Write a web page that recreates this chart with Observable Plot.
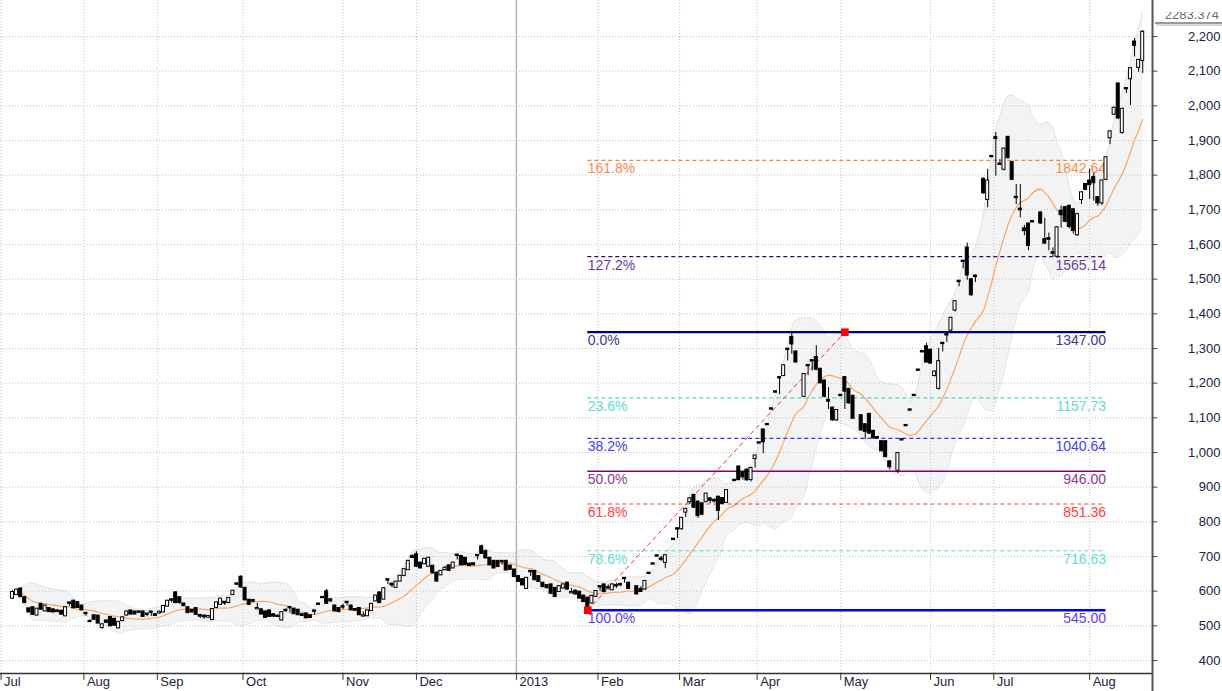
<!DOCTYPE html>
<html><head><meta charset="utf-8">
<script src="https://cdn.jsdelivr.net/npm/d3@7"></script>
<script src="https://cdn.jsdelivr.net/npm/@observablehq/plot@0.6"></script>
<style>
html,body{margin:0;padding:0;background:#fff;}
#chart{width:1222px;height:691px;overflow:hidden;position:relative;}
</style></head><body><div id="chart"></div>
<script>
// Daily OHLC, one entry per session slot (null = empty session)
const O = [580,590,606,581,549,552,531,562,543,550, 546,543,542,529,566,571,567,557,536,513,
 529,528,495,514,524,519,494,515,531,543, 540,540,540,534,540,532,537,540,557,575,
 595,581,563,552,545,550,530,528,525,518, 553,562,568,567,590,621,640,608,574,573,
 549,546,540,543,532,528,517,545,553,548, 545,532,534,529,543,563,582,598,575,557,
 550,555,568,557,547,550,528,529,544,572, 595,577,633,620,611,629,645,662,700,705,
 681,679,672,672,652,647,662,673,667,704, 700,695,678,679,703,728,714,695,686,686,
 686,686,672,661,642,633,608,657,657,642, 623,616,618,608,599,609,623,595,600,597,
 586,580,566,585,613,618,610,604,616,619, 637,623,null,
 613,605,606,652,679,702,693,683,null,
 750,780,780,828,858,876,857,852,858,866,862,871,867,856,null,
 920,958,940,949,922,983,1028,1065,1081,1126,1175,1216,1222,1298,1332,1290,null,
 1162,1251,1265,1274,1240,1206,1150,1128,1094,1165,1216,1182,1162,null,
 1106,1080,1110,1061,1043,1031,1031,973,null,
 949,1037,1078,1123,1165,1238,1291,1305,1295,1222,1185,1315,1340,1353,1411,1494,1552,1590,1498,1509,null,
 1788,1730,1854,1908,1832,1817,1909,1836,1736,1702,1645,1659,1666,null,
 1691,1614,1617,1576,1566,1696,1706,1710,1700,1628,1730,1773,1783,1793,1735,1720,1788,1908,1976,2063,1923,2050,2078,2184,2111,2131];
const H = [602,606,610,583,551,555,550,565,559,552, 549,547,545,555,567,574,569,559,537,516,
 531,530,506,516,526,521,512,525,542,545, 541,543,542,536,541,535,543,558,573,578,
 598,583,565,556,547,552,533,532,530,549, 568,579,570,581,602,624,645,611,576,576,
 565,549,543,545,535,531,540,548,554,551, 547,534,538,532,544,563,582,605,578,560,
 553,562,569,560,549,552,540,545,564,588, 597,610,634,623,628,645,664,688,705,714,
 683,694,697,674,654,659,672,676,683,705, 703,697,681,681,704,733,719,697,688,688,
 687,689,676,663,644,635,639,658,659,644, 625,619,620,611,615,620,626,608,604,599,
 588,582,588,601,614,620,618,620,623,623, 638,625,null,
 615,613,630,653,680,703,700,706,null,
 751,781,812,838,870,880,860,855,882,870,866,874,870,893,null,
 921,962,946,953,957,992,1029,1068,1082,1127,1176,1217,1253,1299,1346,1293,null,
 1228,1252,1266,1308,1243,1209,1187,1131,1124,1166,1219,1185,1165,null,
 1109,1083,1113,1064,1044,1034,1034,976,null,
 1000,1038,1079,1124,1166,1239,1292,1315,1298,1235,1300,1316,1341,1390,1438,1495,1553,1604,1502,1512,null,
 1792,1817,1855,1923,1845,1878,1912,1840,1773,1773,1655,1662,1667,null,
 1694,1676,1633,1590,1652,1711,1710,1714,1704,1690,1752,1776,1817,1806,1738,1786,1853,1928,1996,2066,1993,2051,2110,2194,2134,2217];
const L = [576,588,582,564,538,531,529,546,541,539, 538,539,530,526,556,550,551,544,528,511,
 517,506,490,508,498,499,491,513,529,532, 533,536,525,526,527,528,534,538,555,566,
 565,562,556,536,538,531,521,519,521,516, 550,560,559,565,588,617,608,572,558,567,
 548,532,522,525,524,524,514,538,536,533, 530,527,521,521,531,561,580,562,567,540,
 538,547,557,544,543,530,527,527,542,570, 564,575,619,610,609,627,643,660,694,670,
 665,677,669,650,626,645,660,658,665,690, 674,675,671,673,690,706,692,673,664,669,
 675,659,660,640,625,616,606,642,630,625, 610,607,591,582,597,607,603,593,589,577,
 567,545,563,583,599,597,603,602,608,613, 623,606,null,
 590,597,604,650,677,700,686,665,null,
 748,752,776,812,850,838,810,818,856,852,854,804,850,853,null,
 918,918,920,918,915,955,1026,997,1079,1124,1173,1167,1219,1264,1283,1258,null,
 1159,1222,1235,1236,1198,1158,1124,1090,1090,1163,1124,1140,1095,null,
 1062,1037,1052,1039,1041,1002,985,950,null,
 939,1035,1076,1121,1163,1236,1289,1258,1254,1218,1180,1290,1318,1343,1405,1478,1530,1497,1450,1490,null,
 1745,1706,1852,1797,1829,1812,1846,1784,1715,1677,1625,1582,1664,null,
 1658,1600,1582,1565,1560,1647,1663,1645,1630,1624,1715,1756,1730,1725,1710,1712,1784,1888,1972,1960,1918,2035,2001,2141,2097,2093];
const C = [596,603,584,567,540,533,548,548,557,541, 540,541,534,552,565,552,553,546,535,512,
 519,508,503,510,500,502,510,523,540,534, 534,539,527,533,539,530,539,556,571,574,
 567,567,558,538,540,533,528,526,527,547, 566,577,566,579,600,620,612,575,562,571,
 550,534,524,527,528,527,538,544,552,535, 532,530,523,524,542,562,581,565,572,543,
 541,554,567,546,545,532,529,543,562,586, 567,607,632,618,626,643,662,686,697,672,
 667,692,695,653,629,657,666,660,681,703, 676,677,674,676,702,709,696,676,667,671,
 685,661,663,642,628,618,637,656,633,628, 613,610,594,585,613,618,606,596,592,580,
 570,556,585,599,612,599,609,618,615,618, 636,608,null,
 592,599,628,651,678,701,692,702,null,
 749,779,810,836,866,842,818,822,880,862,860,833,853,890,null,
 919,922,930,921,954,990,1027,1031,1080,1125,1174,1215,1250,1297,1313,1261,null,
 1225,1250,1264,1240,1201,1162,1148,1094,1121,1164,1177,1143,1099,null,
 1065,1061,1056,1042,1042,1005,988,959,null,
 997,1036,1077,1122,1164,1237,1290,1261,1258,1232,1262,1314,1339,1387,1435,1493,1551,1512,1455,1507,null,
 1749,1783,1853,1906,1831,1875,1851,1788,1735,1700,1640,1597,1665,null,
 1662,1604,1615,1575,1648,1686,1667,1652,1640,1686,1749,1759,1773,1778,1720,1783,1850,1925,1993,1965,1990,2049,2107,2174,2131,2212];

const monthSlots  = [-1.8, 18.5, 36.5, 57.5, 82, 100, 124.5, 144.5, 164.5, 183.5, 204, 226, 241.5, 265];
const monthLabels = ["Jul","Aug","Sep","Oct","Nov","Dec","2013","Feb","Mar","Apr","May","Jun","Jul","Aug"];
const yTicks = [400,500,600,700,800,900,1000,1100,1200,1300,1400,1500,1600,1700,1800,1900,2000,2100,2200];

const fibLabels = ["0.0%","23.6%","38.2%","50.0%","61.8%","78.6%","100.0%","127.2%","161.8%"];
const fibValues = [1347.00,1157.73,1040.64,946.00,851.36,716.63,545.00,1565.14,1842.64];
const fibStartSlot = 142, fibEndSlot = 269;
const swingSlots = [142, 205];
const swingValues = [545, 1347];
const lastPriceLabel = "2283.374";
const maPeriod = 14;

// ---- styles ----
const fibStyle = {
  "0.0%":   {line:"#00007f", text:"#3b3b8f", w:2.2, dash:null},
  "23.6%":  {line:"#4fd8c8", text:"#5fdccc", w:1.2, dash:"4,3"},
  "38.2%":  {line:"#3030ff", text:"#4040f0", w:1.3, dash:"4,3"},
  "50.0%":  {line:"#800080", text:"#8e3a92", w:1.5, dash:null},
  "61.8%":  {line:"#ff3b3b", text:"#ff4040", w:1.2, dash:"4,3"},
  "78.6%":  {line:"#5ad8cc", text:"#66dccf", w:1.2, dash:"4,3"},
  "100.0%": {line:"#0000ff", text:"#5a3cff", w:2.5, dash:null},
  "127.2%": {line:"#2d0a6a", text:"#6a38a8", w:1.2, dash:"4,3"},
  "161.8%": {line:"#ff7f40", text:"#ff8a50", w:1.2, dash:"4,3"}
};
const xMin = -1.94, xMax = 280.4, yMin = 362.5, yMax = 2303.8;
const font = "'Liberation Sans', Arial, sans-serif";

const candles = [];
O.forEach((o, i) => { if (o != null) candles.push({slot: i + 1, o, h: H[i], l: L[i], c: C[i]}); });
const bb = candles.map((d, k) => {
  const w = candles.slice(Math.max(0, k - maPeriod + 1), k + 1).map(e => e.c);
  const m = d3.mean(w);
  const sd = Math.sqrt(d3.mean(w, v => (v - m) ** 2));
  return {slot: d.slot, mid: m, up: m + 2 * sd, lo: m - 2 * sd};
});
const fib = fibLabels.map((l, i) => ({label: l, value: fibValues[i]}));
const swing = swingSlots.map((s, i) => ({slot: s, v: swingValues[i]}));
const months = monthSlots.map((s, i) => ({slot: s, label: monthLabels[i]}));

const marks = [
  Plot.areaY(bb, {x: "slot", y1: "lo", y2: "up", fill: "#f3f3f3", curve: "monotone-x"}),
  Plot.lineY(bb, {x: "slot", y: "up", stroke: "#e3e3e3", strokeWidth: 1, curve: "monotone-x"}),
  Plot.lineY(bb, {x: "slot", y: "lo", stroke: "#e3e3e3", strokeWidth: 1, curve: "monotone-x"}),
  Plot.ruleY(yTicks, {stroke: "#c4c4c4", strokeDasharray: "1,2"}),
  Plot.ruleX(months.filter(d => d.label !== "2013"), {x: "slot", y1: yMin, y2: yMax, stroke: "#c4c4c4", strokeDasharray: "1,2"}),
  Plot.ruleX(months.filter(d => d.label === "2013"), {x: "slot", y1: yMin, y2: yMax, stroke: "#b4b4b4", strokeWidth: 1.5}),
  Plot.lineY(bb, {x: "slot", y: "mid", stroke: "#f7a25c", strokeWidth: 1.1, curve: "monotone-x"})
];
for (const f of fib) {
  const s = fibStyle[f.label];
  marks.push(Plot.ruleY([f], {x1: fibStartSlot, x2: fibEndSlot, y: "value", stroke: s.line, strokeWidth: s.w, strokeDasharray: s.dash || undefined}));
  marks.push(Plot.text([f], {x: fibStartSlot, y: "value", text: "label", textAnchor: "start", lineAnchor: "top", dy: 3, fill: s.text, fontSize: 14}));
  marks.push(Plot.text([f], {x: fibEndSlot, y: "value", text: d => d.value.toFixed(2), textAnchor: "end", lineAnchor: "top", dy: 3, fill: s.text, fontSize: 14}));
}
marks.push(
  Plot.line(swing, {x: "slot", y: "v", stroke: "#ff3030", strokeWidth: 1, strokeDasharray: "4,4"}),
  Plot.ruleX(candles, {x: "slot", y1: "l", y2: "h", stroke: "#000", strokeWidth: 1}),
  Plot.rect(candles, {x1: d => d.slot - 0.37, x2: d => d.slot + 0.37, y1: "o", y2: "c",
    fill: d => d.c > d.o ? "#ffffff" : "#000000", stroke: "#000", strokeWidth: 1, insetTop: -0.5, insetBottom: -0.5}),
  Plot.dot(swing, {x: "slot", y: "v", symbol: "square", fill: "#ff0000", r: 4.3}),
  // axes
  Plot.ruleY([yMin], {x1: xMin, x2: xMax, stroke: "#333", strokeWidth: 1.5}),
  Plot.ruleX([xMax], {y1: yMax, y2: yMin - 60, stroke: "#555", strokeWidth: 2}),
  Plot.ruleY(yTicks, {x1: xMax, x2: xMax + 1.3, stroke: "#444"}),
  Plot.text(yTicks, {y: d => d, frameAnchor: "right", dx: 68, textAnchor: "end", text: d => d3.format(",")(d), fill: "#22223a", fontSize: 13}),
  Plot.ruleX(months, {x: "slot", y1: yMin, y2: yMin - 20, stroke: "#333"}),
  Plot.text(months, {x: "slot", frameAnchor: "bottom", text: "label", textAnchor: "start", lineAnchor: "top", dx: 3, dy: 3,
    fill: "#22223a", fontSize: 13, fontWeight: d => d.label === "2013" ? "bold" : "normal"})
);

const chart = Plot.plot({
  width: 1222, height: 691,
  marginLeft: 0, marginRight: 70, marginTop: 0, marginBottom: 18,
  style: {fontFamily: font, background: "#fff", overflow: "hidden"},
  x: {domain: [xMin, xMax], axis: null},
  y: {domain: [yMin, yMax], axis: null},
  color: {type: "identity"},
  marks
});
document.getElementById("chart").append(chart);

// last-price tag at the top right (partly cut)
const svg = d3.select(chart);
const defs = svg.append("defs");
defs.append("clipPath").attr("id", "tagclip").append("rect").attr("x", 1150).attr("y", 12).attr("width", 80).attr("height", 20);
const tag = svg.append("g").attr("clip-path", "url(#tagclip)");
tag.append("text").attr("x", 1219).attr("y", 19).attr("text-anchor", "end")
  .attr("font-family", font).attr("font-size", 13).attr("fill", "#6a6a7a").text(lastPriceLabel);
svg.append("line").attr("x1", 1155).attr("x2", 1222).attr("y1", 23).attr("y2", 23).attr("stroke", "#777").attr("stroke-width", 1.5);
svg.append("line").attr("x1", 1156).attr("x2", 1222).attr("y1", 25).attr("y2", 25).attr("stroke", "#ccc").attr("stroke-width", 1.5);
</script></body></html>
